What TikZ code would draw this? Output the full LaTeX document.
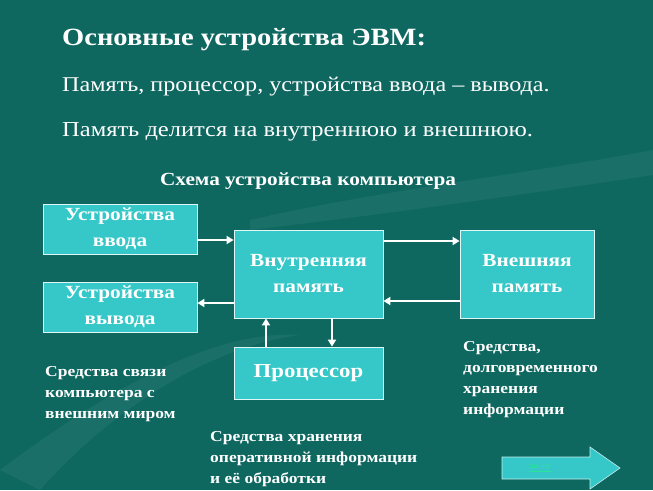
\documentclass[tikz,border=0pt]{standalone}
\usepackage{fontspec}
\setmainfont[FakeStretch=1.15]{Liberation Serif}
\usetikzlibrary{arrows.meta}
\definecolor{bgc}{RGB}{14,104,96}
\definecolor{boxc}{RGB}{54,200,200}
\definecolor{linkc}{RGB}{40,230,150}
\begin{document}
\begin{tikzpicture}[x=1pt,y=-1pt,
  box/.style={draw=white!85!boxc,line width=0.8pt,fill=boxc,text=white,font=\bfseries\fontsize{18.5}{26}\selectfont,align=center,inner sep=0pt},
  conn/.style={draw=white,line width=2.2pt,-{Triangle[length=7pt,width=8pt]}},
  lbl/.style={text=white,font=\bfseries\fontsize{15.2}{21}\selectfont,align=left,anchor=north west,inner sep=0pt}]
\fill[bgc] (0,0) rectangle (653,490);
\useasboundingbox (0,0) rectangle (653,490);
% faint swooshes
\fill[white,opacity=0.05] (0,470) .. controls (120,380) and (220,330) .. (300,335) .. controls (220,345) and (120,400) .. (40,490) -- cycle;
\fill[white,opacity=0.05] (250,220) .. controls (380,190) and (520,175) .. (653,150) -- (653,175) .. controls (520,195) and (380,215) .. (250,230) -- cycle;
% texts
\node[anchor=base west,inner sep=0pt,text=white,font=\bfseries\fontsize{24.8}{28}\selectfont] (t1) at (62,45) {Основные устройства ЭВМ:};
\node[anchor=base west,inner sep=0pt,text=white,font=\fontsize{21}{24}\selectfont] (t2) at (62,91) {Память, процессор, устройства ввода – вывода.};
\node[anchor=base west,inner sep=0pt,text=white,font=\fontsize{21.3}{24}\selectfont] (t3) at (62,136) {Память делится на внутреннюю и внешнюю.};
\node[anchor=base,inner sep=0pt,text=white,font=\bfseries\fontsize{18.5}{22}\selectfont] (t4) at (308,185) {Схема устройства компьютера};
% boxes
\node[box,minimum width=154pt,minimum height=50pt] (in) at (120,229) {Устройства\\ввода};
\node[box,minimum width=154pt,minimum height=50pt] (out) at (120,307) {Устройства\\вывода};
\node[box,minimum width=149pt,minimum height=88pt] (mem) at (308.5,274) {Внутренняя\\память};
\node[box,minimum width=134pt,minimum height=88pt] (ext) at (527,274) {Внешняя\\память};
\node[box,minimum width=149pt,minimum height=52pt,font=\bfseries\fontsize{19.8}{23}\selectfont] (cpu) at (308.5,373) {Процессор};
% connectors
\draw[conn] (in.east |- 0,240) -- (mem.west |- 0,240);
\draw[conn] (mem.west |- 0,303) -- (out.east |- 0,303);
\draw[conn] (mem.east |- 0,241) -- (ext.west |- 0,241);
\draw[conn] (ext.west |- 0,301) -- (mem.east |- 0,301);
\draw[conn] (cpu.north -| 266,0) -- (mem.south -| 266,0);
\draw[conn] (mem.south -| 332,0) -- (cpu.north -| 332,0);
% labels
\node[lbl] (l1) at (45,366) {Средства связи\\компьютера с\\внешним миром};
\node[lbl] (l2) at (210,431) {Средства хранения\\оперативной информации\\и её обработки};
\node[lbl] (l3) at (463,341) {Средства,\\долговременного\\хранения\\информации};
% next button
\draw[fill=boxc,draw=white!70!boxc,line width=0.6pt] (502,457) -- (590,457) -- (590,447) -- (620,468) -- (590,489) -- (590,479) -- (502,479) -- cycle;
\node[inner sep=0pt,text=linkc,font=\fontsize{8}{9}\selectfont] (next) at (540,468) {\underline{далее}};
\end{tikzpicture}
\end{document}
